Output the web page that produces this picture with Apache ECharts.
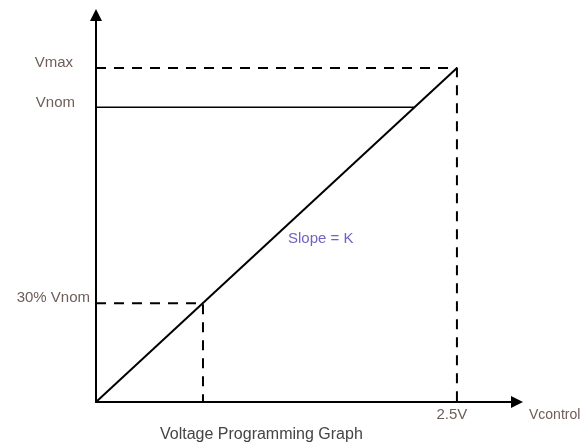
<!DOCTYPE html>
<html><head><meta charset="utf-8">
<script src="https://cdn.jsdelivr.net/npm/echarts@6/dist/echarts.min.js"></script>
<style>html,body{margin:0;padding:0;background:#fff}#c{width:583px;height:443px}</style>
</head><body><div id="c"></div><script>
// y levels (Vmax = 1 unit)
const yLevelNames = ['30% Vnom', 'Vnom', 'Vmax'];
const yLevelValues = [0.296, 0.883, 1];
// x tick
const xTickNames = ['2.5V'];
const xTickValues = [2.5];
// transfer line (slope K)
const slopeX = [0, 2.5];
const slopeY = [0, 1];
// Vnom solid level line
const vnomLineX = [0, 2.21];
const vnomLineY = [0.883, 0.883];
// dashed guides
const vmaxGuideX = [0, 2.5, 2.5];
const vmaxGuideY = [1, 1, 0];
const lowGuideX = [0, 0.741, 0.741];
const lowGuideY = [0.296, 0.296, 0];

const FONT = 'Liberation Sans, Arial, sans-serif';
const LABEL_COLOR = '#6e5d59';
const pairs = (xs, ys) => xs.map((x, i) => [x, ys[i]]);

const chart = echarts.init(document.getElementById('c'), null, {renderer: 'canvas'});
const yRich = {
  r0: {padding: [0, 0, 10, 0], fontSize: 15, color: LABEL_COLOR, fontFamily: FONT},
  r1: {padding: [0, 15, 8, 0], fontSize: 15, color: LABEL_COLOR, fontFamily: FONT},
  r2: {padding: [0, 17, 10, 0], fontSize: 15, color: LABEL_COLOR, fontFamily: FONT}
};
chart.setOption({
  animation: false,
  backgroundColor: '#fff',
  title: [
    {text: 'Voltage Programming Graph', left: 160, top: 427, padding: 0,
     textStyle: {fontSize: 16, fontWeight: 'normal', color: '#444', fontFamily: FONT}},
    {text: 'Slope = K', left: 288, top: 231, padding: 0,
     textStyle: {fontSize: 15, fontWeight: 'normal', color: '#6f63c2', fontFamily: FONT}}
  ],
  grid: {left: 96, right: 66, top: 15, bottom: 41, containLabel: false, outerBoundsMode: 'none'},
  xAxis: {
    type: 'value', min: 0, max: 2.916,
    name: 'Vcontrol', nameLocation: 'end', nameGap: 12,
    nameTextStyle: {fontSize: 14, color: LABEL_COLOR, fontFamily: FONT, verticalAlign: 'top', padding: [6, 0, 0, 0]},
    nameTruncate: {maxWidth: null},
    axisLine: {show: true, onZero: false, symbol: ['none', 'triangle'], symbolSize: [12, 12],
      lineStyle: {color: '#000', width: 2}},
    axisTick: {show: false},
    splitLine: {show: false},
    axisLabel: {
      customValues: xTickValues, margin: 5,
      formatter: v => '{a|' + xTickNames[xTickValues.indexOf(v)] + '}',
      rich: {a: {padding: [0, 10, 0, 0], fontSize: 15, color: LABEL_COLOR, fontFamily: FONT}}
    }
  },
  yAxis: {
    type: 'value', min: 0, max: 1.159,
    axisLine: {show: true, onZero: false, symbol: ['none', 'triangle'], symbolSize: [12, 12],
      lineStyle: {color: '#000', width: 2}},
    axisTick: {show: false},
    splitLine: {show: false},
    axisLabel: {
      customValues: yLevelValues, margin: 6,
      formatter: v => { const i = yLevelValues.indexOf(v); return '{r' + i + '|' + yLevelNames[i] + '}'; },
      rich: yRich
    }
  },
  series: [
    {type: 'line', data: pairs(vmaxGuideX, vmaxGuideY), symbol: 'none', silent: true,
     lineStyle: {color: '#000', width: 2, type: [10, 8]}},
    {type: 'line', data: pairs(lowGuideX, lowGuideY), symbol: 'none', silent: true,
     lineStyle: {color: '#000', width: 2, type: [10, 8]}},
    {type: 'line', data: pairs(vnomLineX, vnomLineY), symbol: 'none', silent: true,
     lineStyle: {color: '#000', width: 1.5}},
    {type: 'line', data: pairs(slopeX, slopeY), symbol: 'none', silent: true,
     lineStyle: {color: '#000', width: 2}}
  ]
});
</script></body></html>
